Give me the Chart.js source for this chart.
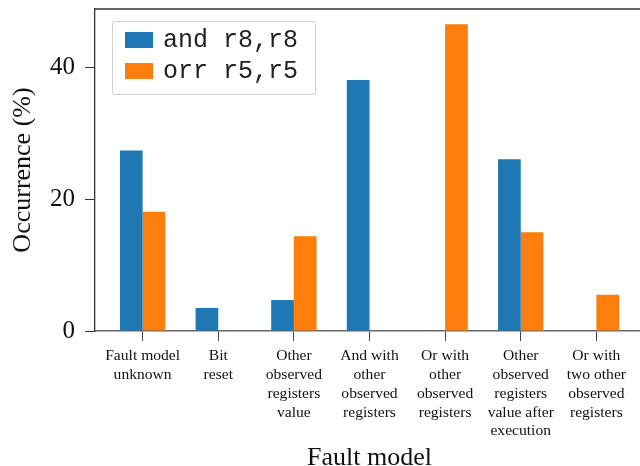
<!DOCTYPE html>
<html>
<head>
<meta charset="utf-8">
<script src="https://cdn.jsdelivr.net/npm/chart.js@4.4.1/dist/chart.umd.min.js"></script>
<style>
  html, body { margin: 0; padding: 0; background: #fff; overflow: hidden; width: 640px; height: 466px; }
  #wrap { width: 648px; height: 466px; }
</style>
</head>
<body>
<div id="wrap"><canvas id="myChart"></canvas></div>
<script>
// categories (multi-line tick labels)
const categories = [
  ["Fault model", "unknown"],
  ["Bit", "reset"],
  ["Other", "observed", "registers", "value"],
  ["And with", "other", "observed", "registers"],
  ["Or with", "other", "observed", "registers"],
  ["Other", "observed", "registers", "value after", "execution"],
  ["Or with", "two other", "observed", "registers"],
];
const andValues = [27.4, 3.5, 4.7, 38.1, 0, 26.1, 0];
const orrValues = [18.1, 0, 14.4, 0, 46.6, 15.0, 5.5];
const seriesLabels = ["and r8,r8", "orr r5,r5"];
const yTicks = [0, 20, 40];

const serif = "'Liberation Serif', 'DejaVu Serif', serif";
const mono = "'Liberation Mono', 'DejaVu Sans Mono', monospace";

const toPoints = (arr) => arr.map((v, i) => ({ x: i, y: v }));

// top spine + legend inside the plot
const framePlugin = {
  id: "frame",
  afterDraw(chart) {
    const { ctx, chartArea } = chart;
    ctx.save();
    ctx.strokeStyle = "#333";
    ctx.lineWidth = 1.3;
    ctx.beginPath();
    ctx.moveTo(chartArea.left, chartArea.top);
    ctx.lineTo(chartArea.right, chartArea.top);
    ctx.stroke();

    const x0 = chartArea.left + 17;
    const y0 = chartArea.top + 12;
    ctx.fillStyle = "rgba(255,255,255,0.8)";
    ctx.strokeStyle = "#d0d0d0";
    ctx.lineWidth = 1;
    ctx.beginPath();
    ctx.roundRect(x0 + 0.5, y0 + 0.5, 203, 73, 2);
    ctx.fill();
    ctx.stroke();

    ctx.font = `25px ${mono}`;
    ctx.textBaseline = "middle";
    chart.data.datasets.forEach((ds, i) => {
      const sy = y0 + 11 + i * 31;
      ctx.fillStyle = ds.backgroundColor;
      ctx.fillRect(x0 + 13, sy, 28, 16);
      ctx.fillStyle = "#222";
      ctx.fillText(ds.label, x0 + 51, sy + 8);
    });
    ctx.restore();
  },
};

const ctx = document.getElementById("myChart").getContext("2d");
const chart = new Chart(ctx, {
  type: "bar",
  data: {
    datasets: [
      { label: seriesLabels[0], data: toPoints(andValues), backgroundColor: "#1f77b4" },
      { label: seriesLabels[1], data: toPoints(orrValues), backgroundColor: "#ff7f0e" },
    ],
  },
  plugins: [framePlugin],
  options: {
    responsive: true,
    maintainAspectRatio: false,
    animation: false,
    layout: { padding: { top: 9, right: 4, left: 0, bottom: 0 } },
    datasets: { bar: { categoryPercentage: 0.6, barPercentage: 1.0 } },
    plugins: { legend: { display: false }, tooltip: { enabled: false } },
    scales: {
      x: {
        type: "linear",
        offset: false,
        min: -0.63,
        max: 6.63,
        afterBuildTicks: (scale) => {
          scale.ticks = categories.map((c, i) => ({ value: i }));
        },
        afterFit: (scale) => {
          scale.height = 135;
          scale.paddingLeft = 0;
          scale.paddingRight = 0;
        },
        ticks: {
          autoSkip: false,
          maxRotation: 0,
          padding: 6,
          color: "#111",
          font: { family: serif, size: 15.6, lineHeight: 1.2 },
          callback: (v) => categories[v],
        },
        grid: { offset: false, drawOnChartArea: false, drawTicks: true, tickLength: 10, tickColor: "#444" },
        border: { color: "#666", width: 1.5 },
        title: {
          display: true,
          text: "Fault model",
          color: "#111",
          font: { family: serif, size: 26, lineHeight: 0.6 },
          padding: { top: 0, bottom: 0 },
        },
      },
      y: {
        min: 0,
        max: 48.9,
        afterBuildTicks: (scale) => {
          scale.ticks = yTicks.map((v) => ({ value: v }));
        },
        afterFit: (scale) => {
          scale.width = 95;
          scale.paddingTop = 0;
          scale.paddingBottom = 0;
        },
        ticks: {
          padding: 10,
          color: "#111",
          font: { family: serif, size: 25 },
        },
        grid: { drawOnChartArea: false, drawTicks: true, tickLength: 10, tickColor: "#333" },
        border: { color: "#333", width: 1.3 },
        title: {
          display: true,
          text: "Occurrence (%)",
          color: "#111",
          font: { family: serif, size: 26 },
          padding: { top: 8, bottom: 0 },
        },
      },
    },
  },
});
</script>
</body>
</html>
